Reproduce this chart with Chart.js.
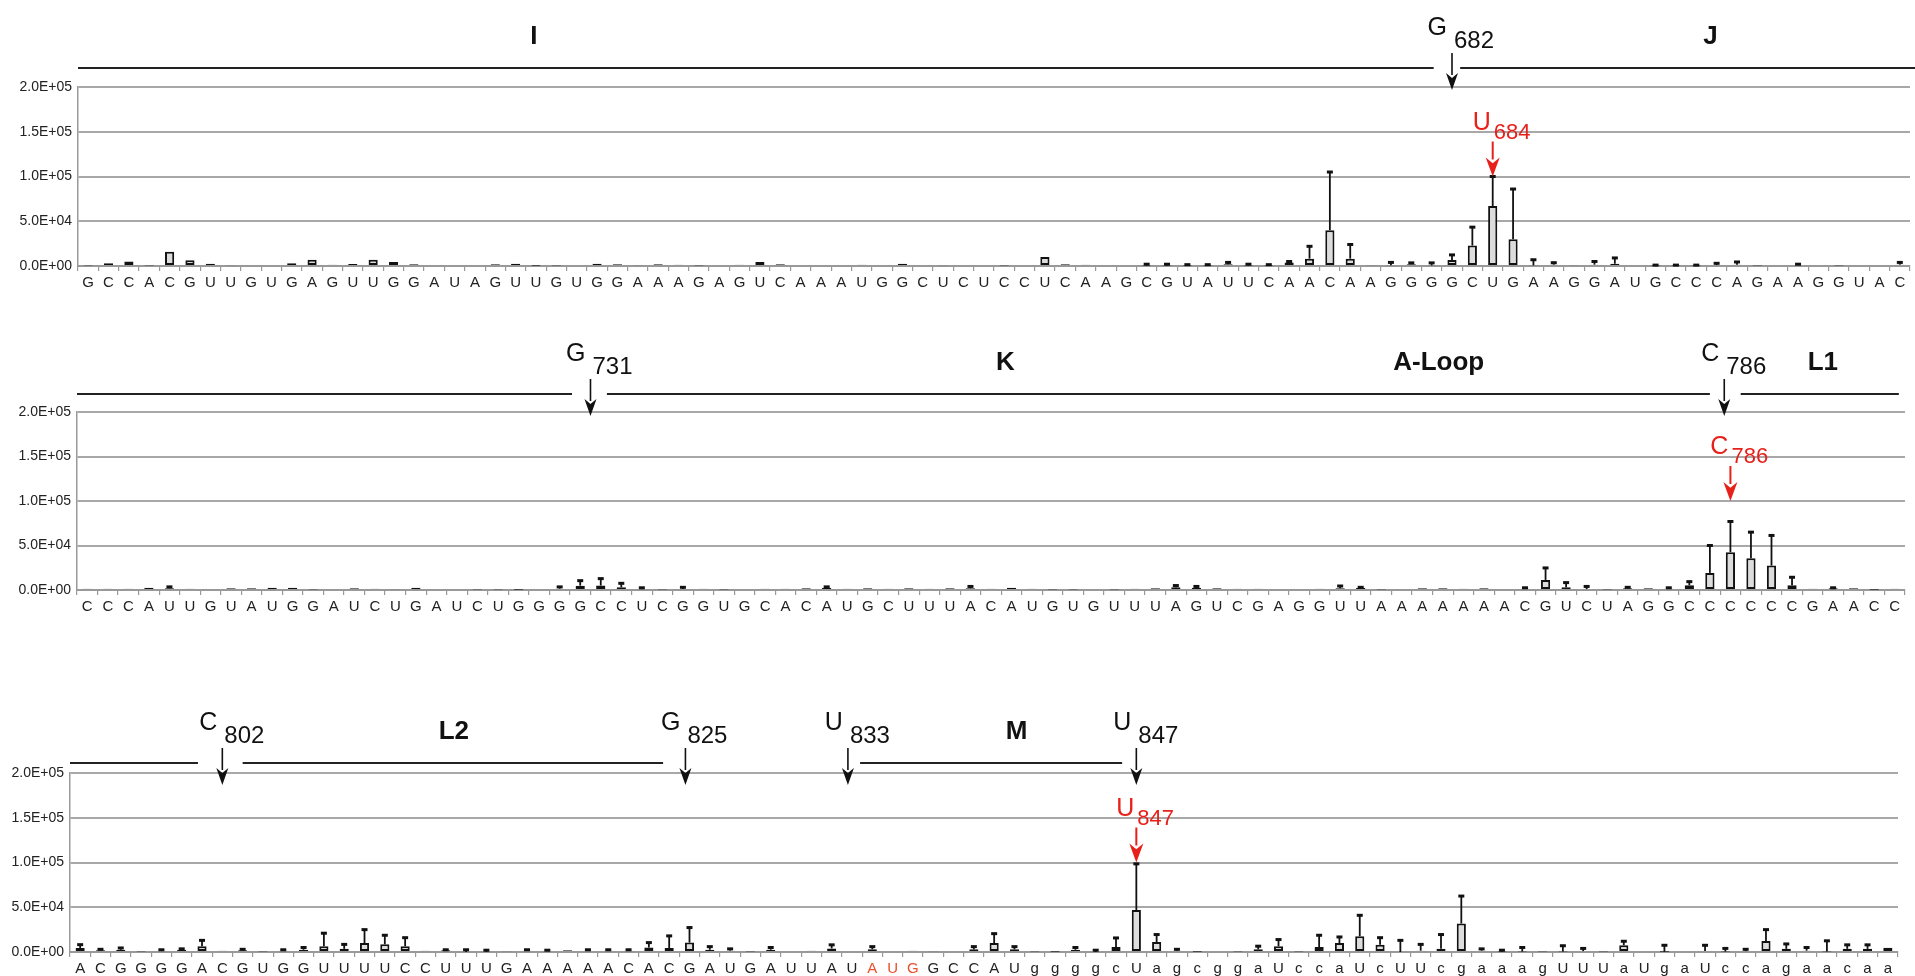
<!DOCTYPE html>
<html>
<head>
<meta charset="utf-8">
<script src="https://cdn.jsdelivr.net/npm/chart.js@4.4.1/dist/chart.umd.min.js"></script>
<style>
  body { margin: 0; background: #fff; width: 1915px; height: 976px; overflow: hidden; position: relative; }
  canvas { position: absolute; left: 0; }
</style>
</head>
<body>
<canvas id="panel1" width="1915" height="300" style="top:0px"></canvas>
<canvas id="panel2" width="1915" height="330" style="top:300px"></canvas>
<canvas id="panel3" width="1915" height="346" style="top:630px"></canvas>
<script>
// Nucleotide sequences on the x axes
const seq1 = 'GCCACGUUGUGAGUUGGAUAGUUGUGGAAAGAGUCAAAUGGCUCUCCUCAAGCGUAUUCAACAAGGGGCUGAAGGAUGCCCAGAAGGUAC'.split('');
const seq2 = 'CCCAUUGUAUGGAUCUGAUCUGGGGCCUCGGUGCACAUGCUUUACAUGUGUUUAGUCGAGGUUAAAAAAACGUCUAGGCCCCCCGAACC'.split('');
const seq3 = 'ACGGGGACGUGGUUUUCCUUUGAAAAACACGAUGAUUAUAUGGCCAUggggcUagcggaUccaUcUUcgaaagUUUaUgaUccagaacaa'.split('');

// Mean signal per position
const mean1 = [500, 3000, 5000, 500, 16000, 6500, 2500, 700, 0, 0,
  3000, 7000, 1500, 2200, 7000, 4500, 2000, 0, 0, 0,
  2000, 2500, 300, 500, 0, 2500, 2000, 800, 2000, 1500,
  500, 0, 1500, 4500, 2000, 0, 0, 1000, 1500, 0,
  2500, 0, 700, 1000, 0, 500, 0, 10000, 2000, 1500,
  0, 0, 500, 500, 500, 500, 2000, 500, 500, 4000,
  8200, 40000, 8200, 700, 700, 2000, 700, 6700, 22800, 67000,
  30000, 700, 1500, 700, 1500, 2500, 0, 500, 500, 500,
  1000, 1500, 500, 1000, 1000, 1000, 500, 1000, 1000, 1500];
const sd1 = [0, 0, 0, 0, 0, 0, 0, 0, 0, 0,
  0, 0, 0, 0, 0, 0, 0, 0, 0, 0,
  0, 0, 0, 0, 0, 0, 0, 0, 0, 0,
  0, 0, 0, 0, 0, 0, 0, 0, 0, 0,
  0, 0, 0, 0, 0, 0, 0, 0, 0, 0,
  0, 0, 1500, 1500, 1000, 1000, 2000, 1500, 1000, 1000,
  13800, 65000, 15800, 0, 3300, 1500, 2800, 5700, 20600, 33000,
  56000, 6300, 2200, 0, 3500, 6500, 0, 500, 500, 500,
  2000, 3000, 0, 0, 1000, 0, 0, 0, 0, 2500];

const mean2 = [1500, 1500, 1500, 2500, 2000, 1500, 1200, 2000, 2000, 2500,
  2500, 500, 1200, 2000, 1500, 800, 2500, 1200, 1200, 500,
  500, 300, 1000, 1500, 4900, 5000, 3000, 1000, 500, 1000,
  1500, 500, 1000, 1500, 1500, 2000, 2500, 1500, 2000, 1500,
  2000, 1500, 2000, 2000, 1500, 2500, 1500, 500, 500, 1000,
  500, 1500, 2000, 3000, 2500, 2000, 1500, 1500, 1000, 1000,
  1500, 2000, 2500, 500, 1000, 2000, 2000, 1500, 2000, 0,
  1500, 11300, 3000, 1000, 500, 2000, 2000, 1500, 5300, 19200,
  42500, 35700, 27400, 5300, 1500, 2000, 2000, 300, 1500];
const sd2 = [0, 0, 0, 0, 1500, 0, 0, 0, 0, 0,
  0, 0, 0, 0, 0, 0, 0, 0, 0, 0,
  0, 0, 0, 2000, 5600, 7800, 4500, 1500, 0, 2000,
  0, 0, 0, 0, 0, 0, 1000, 0, 0, 0,
  0, 0, 0, 2000, 0, 0, 0, 0, 0, 0,
  0, 0, 0, 2000, 1500, 0, 0, 0, 0, 0,
  0, 2500, 500, 0, 0, 0, 0, 0, 0, 0,
  1000, 13500, 5300, 3000, 0, 1000, 0, 1000, 4100, 30800,
  34500, 29300, 33900, 9000, 0, 500, 0, 0, 0];

const mean3 = [4500, 2000, 2500, 500, 1500, 2500, 6400, 1500, 2000, 500,
  1500, 2500, 6400, 3500, 10000, 8600, 6400, 1500, 2000, 0,
  0, 800, 1500, 1500, 2000, 1500, 1500, 1500, 5000, 4500,
  10500, 2500, 1500, 500, 2500, 1000, 1500, 4000, 1000, 3000,
  1000, 1500, 800, 1000, 3000, 10000, 3000, 500, 300, 2500,
  0, 5600, 46800, 11200, 1500, 300, 1000, 500, 3000, 6400,
  500, 5600, 10000, 17600, 8200, 0, 1500, 3700, 31800, 1500,
  500, 500, 500, 500, 1000, 500, 7500, 0, 300, 1000,
  1000, 500, 1000, 12400, 3500, 1500, 500, 3500, 3500, 4800];
const sd3 = [3700, 1000, 2000, 0, 1000, 1000, 6600, 0, 1000, 0,
  1000, 2500, 14600, 5000, 15000, 10100, 9600, 0, 500, 2500,
  2000, 0, 1000, 500, 0, 1000, 1000, 1000, 5500, 13500,
  16800, 3500, 2000, 0, 2500, 0, 0, 4000, 0, 3000,
  0, 0, 0, 0, 3000, 10500, 3000, 0, 0, 2500,
  2000, 10100, 51700, 8300, 1500, 0, 0, 0, 3500, 7500,
  0, 13100, 6800, 23400, 7800, 13000, 7000, 15800, 30700, 2000,
  1500, 4500, 0, 6500, 3000, 0, 4500, 0, 7200, 0,
  6500, 3500, 2000, 12600, 5500, 3500, 12000, 4500, 4500, 0];

// start codon positions drawn in red on the third axis
const startCodon3 = [39, 40, 41];

// y axis ticks
const yTicks = [0, 50000, 100000, 150000, 200000];

// Annotations: positions are category indices
const regions1 = [{ at: 21.9, text: 'I' }, { at: 79.7, text: 'J' }];
const sites1 = [{ at: 67, base: 'G', num: '682' }];
const hits1 = [{ at: 69, base: 'U', num: '684' }];
const line1 = [[-0.5, 66.1], [67.4, 91]];

const regions2 = [{ at: 44.7, text: 'K' }, { at: 65.8, text: 'A-Loop' }, { at: 84.5, text: 'L1' }];
const sites2 = [{ at: 24.5, base: 'G', num: '731' }, { at: 79.7, base: 'C', num: '786' }];
const hits2 = [{ at: 80, base: 'C', num: '786' }];
const line2 = [[-0.5, 23.6], [25.3, 79.0], [80.5, 88.2]];

const regions3 = [{ at: 18.4, text: 'L2' }, { at: 46.1, text: 'M' }];
const sites3 = [{ at: 7, base: 'C', num: '802' }, { at: 29.8, base: 'G', num: '825' },
  { at: 37.8, base: 'U', num: '833' }, { at: 52, base: 'U', num: '847' }];
const hits3 = [{ at: 52, base: 'U', num: '847' }];
const line3 = [[-0.5, 5.8], [8.0, 28.7], [38.4, 51.3]];

const FONT = "'Liberation Sans', Arial, Helvetica, sans-serif";
const RED = '#e8201a';

function sci(v) {
  if (v === 0) return '0.0E+00';
  const e = Math.floor(Math.log10(v));
  return (v / Math.pow(10, e)).toFixed(1) + 'E+' + String(e).padStart(2, '0');
}

const errorBars = {
  id: 'errorBars',
  afterDatasetsDraw(chart) {
    const ds = chart.data.datasets[0];
    const y = chart.scales.y;
    const ctx = chart.ctx;
    ctx.save();
    ctx.strokeStyle = '#111';
    chart.getDatasetMeta(0).data.forEach((bar, i) => {
      const e = ds.errors[i];
      if (!e) return;
      const top = y.getPixelForValue(ds.data[i] + e);
      ctx.lineWidth = 1.8;
      ctx.beginPath();
      ctx.moveTo(bar.x, bar.y);
      ctx.lineTo(bar.x, top);
      ctx.stroke();
      ctx.lineWidth = 3;
      ctx.beginPath();
      ctx.moveTo(bar.x - 3, top);
      ctx.lineTo(bar.x + 3, top);
      ctx.stroke();
    });
    ctx.restore();
  }
};

function arrow(ctx, x, y0, y1, color, head, half, lw) {
  ctx.strokeStyle = color;
  ctx.fillStyle = color;
  ctx.lineWidth = lw;
  ctx.beginPath();
  ctx.moveTo(x, y0);
  ctx.lineTo(x, y1 - head + 2);
  ctx.stroke();
  ctx.beginPath();
  ctx.moveTo(x, y1);
  ctx.lineTo(x - half, y1 - head);
  ctx.lineTo(x, y1 - head * 0.7);
  ctx.lineTo(x + half, y1 - head);
  ctx.closePath();
  ctx.fill();
}

function marksPlugin(lineY, segs, regions, sites, hits) {
  return {
    id: 'marks',
    afterDraw(chart) {
      const ctx = chart.ctx;
      const xs = chart.scales.x;
      const ys = chart.scales.y;
      const px = v => xs.getPixelForValue(v);
      ctx.save();
      // region line
      ctx.strokeStyle = '#222';
      ctx.lineWidth = 2;
      segs.forEach(s => {
        ctx.beginPath();
        ctx.moveTo(Math.max(px(s[0]), xs.left), lineY);
        ctx.lineTo(Math.min(px(s[1]), chart.width), lineY);
        ctx.stroke();
      });
      // region names
      ctx.fillStyle = '#111';
      ctx.textAlign = 'center';
      ctx.textBaseline = 'alphabetic';
      ctx.font = 'bold 26px ' + FONT;
      regions.forEach(r => ctx.fillText(r.text, px(r.at), lineY - 24));
      // boundary arrows
      sites.forEach(s => {
        const x = px(s.at);
        ctx.fillStyle = '#111';
        ctx.font = '25px ' + FONT;
        ctx.textAlign = 'right';
        ctx.fillText(s.base, x - 5, lineY - 33);
        ctx.textAlign = 'left';
        ctx.font = '24px ' + FONT;
        ctx.fillText(s.num, x + 2, lineY - 20);
        arrow(ctx, x, lineY - 15, lineY + 22, '#111', 17, 6, 1.6);
      });
      // red cleavage arrows
      hits.forEach(h => {
        const x = px(h.at);
        const tip = ys.getPixelForValue(100000);
        ctx.fillStyle = RED;
        ctx.font = '25px ' + FONT;
        ctx.textAlign = 'right';
        ctx.fillText(h.base, x - 2, tip - 47);
        ctx.textAlign = 'left';
        ctx.font = '22px ' + FONT;
        ctx.fillText(h.num, x + 1, tip - 38);
        arrow(ctx, x, tip - 35, tip, RED, 19, 7, 2);
      });
      ctx.restore();
    }
  };
}

function makePanel(id, labels, means, sds, geo, plugin, tickColor) {
  const canvas = document.getElementById(id);
  return new Chart(canvas, {
    type: 'bar',
    data: {
      labels: labels,
      datasets: [{
        data: means,
        errors: sds,
        backgroundColor: '#dcdcdc',
        borderColor: '#111',
        borderWidth: 2,
        borderSkipped: false,
        barPercentage: 0.45,
        categoryPercentage: 1
      }]
    },
    options: {
      responsive: false,
      animation: false,
      events: [],
      layout: {
        padding: { top: geo.top, left: 0, right: 1915 - geo.right, bottom: canvas.height - geo.bottom - 28 }
      },
      plugins: { legend: { display: false }, tooltip: { enabled: false } },
      scales: {
        x: {
          offset: true,
          grid: { display: true, drawOnChartArea: false, drawTicks: true, tickLength: 5, color: '#999', lineWidth: 1.2, offset: true },
          border: { color: '#999', width: 2 },
          ticks: {
            autoSkip: false, maxRotation: 0, minRotation: 0, padding: 3,
            font: { family: FONT, size: 15 },
            color: tickColor || '#222'
          },
          afterFit(s) { s.height = 28; }
        },
        y: {
          min: 0,
          max: 200000,
          afterBuildTicks(s) { s.ticks = yTicks.map(v => ({ value: v })); },
          ticks: { callback: v => sci(v), font: { family: FONT, size: 14 }, color: '#222', padding: 6 },
          grid: { color: '#a8a8a8', lineWidth: 2, drawTicks: false },
          border: { color: '#999', width: 1.5 },
          afterFit(s) { s.width = geo.left; }
        }
      }
    },
    plugins: [errorBars, plugin]
  });
}

makePanel('panel1', seq1, mean1, sd1, { left: 78, right: 1910, top: 87, bottom: 266 },
  marksPlugin(68, line1, regions1, sites1, hits1));
makePanel('panel2', seq2, mean2, sd2, { left: 77, right: 1905, top: 112, bottom: 290 },
  marksPlugin(94, line2, regions2, sites2, hits2));
makePanel('panel3', seq3, mean3, sd3, { left: 70, right: 1898, top: 143, bottom: 322 },
  marksPlugin(133, line3, regions3, sites3, hits3),
  ctx => startCodon3.includes(ctx.index) ? '#e8502e' : '#222');
</script>
</body>
</html>
